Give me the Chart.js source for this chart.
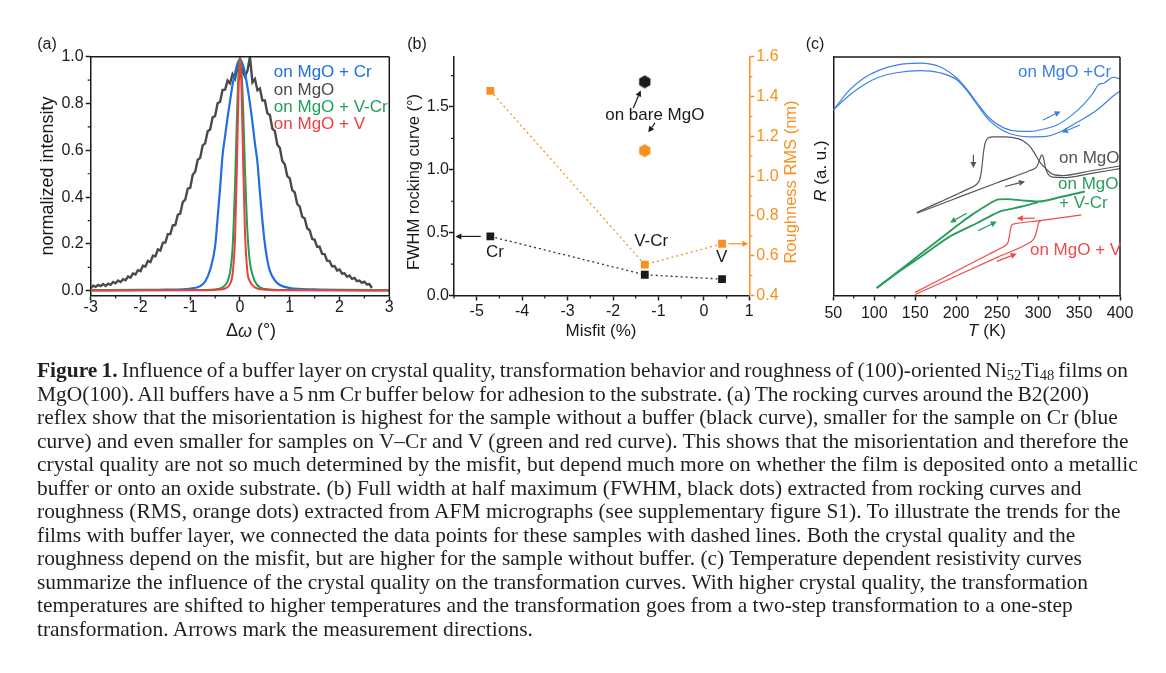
<!DOCTYPE html>
<html>
<head>
<meta charset="utf-8">
<title>Figure 1</title>
<script src="https://cdn.jsdelivr.net/npm/chart.js@4.4.1/dist/chart.umd.min.js"></script>
<style>
  html, body { margin: 0; padding: 0; background: #fff; }
  body { position: relative; width: 1166px; height: 673px; overflow: hidden; }
  canvas { position: absolute; left: 0; top: 0; }
  #caption { position: absolute; left: 37px; top: 359px; font-family: "Liberation Serif", "DejaVu Serif", serif;
             font-size: 18.6px; line-height: 23.55px; color: #231f20; }
  #caption .ln { white-space: nowrap; width: max-content; }
  #caption sub { font-size: 0.68em; vertical-align: -0.22em; line-height: 0; }
</style>
</head>
<body>
<canvas id="chart-a" width="1166" height="360"></canvas>
<canvas id="chart-b" width="1166" height="360"></canvas>
<canvas id="chart-c" width="1166" height="360"></canvas>

<div id="caption">
  <div class="ln"><b>Figure 1.</b> Influence of a buffer layer on crystal quality, transformation behavior and roughness of (100)-oriented Ni<sub>52</sub>Ti<sub>48</sub> films on</div>
  <div class="ln">MgO(100). All buffers have a 5&#8201;nm Cr buffer below for adhesion to the substrate. (a) The rocking curves around the B2(200)</div>
  <div class="ln">reflex show that the misorientation is highest for the sample without a buffer (black curve), smaller for the sample on Cr (blue</div>
  <div class="ln">curve) and even smaller for samples on V–Cr and V (green and red curve). This shows that the misorientation and therefore the</div>
  <div class="ln">crystal quality are not so much determined by the misfit, but depend much more on whether the film is deposited onto a metallic</div>
  <div class="ln">buffer or onto an oxide substrate. (b) Full width at half maximum (FWHM, black dots) extracted from rocking curves and</div>
  <div class="ln">roughness (RMS, orange dots) extracted from AFM micrographs (see supplementary figure S1). To illustrate the trends for the</div>
  <div class="ln">films with buffer layer, we connected the data points for these samples with dashed lines. Both the crystal quality and the</div>
  <div class="ln">roughness depend on the misfit, but are higher for the sample without buffer. (c) Temperature dependent resistivity curves</div>
  <div class="ln">summarize the influence of the crystal quality on the transformation curves. With higher crystal quality, the transformation</div>
  <div class="ln">temperatures are shifted to higher temperatures and the transformation goes from a two-step transformation to a one-step</div>
  <div class="ln">transformation. Arrows mark the measurement directions.</div>
</div>

<script>
// Figure 1 – rocking curves (a), FWHM/roughness vs misfit (b), R(T) curves (c)

// ---------- (a) rocking curves: Δω (°) vs normalized intensity ----------
const omegaMgO = [-3, -2.95, -2.9, -2.85, -2.8, -2.75, -2.7, -2.65, -2.6, -2.55, -2.5, -2.45, -2.4, -2.35, -2.3, -2.25,
  -2.2, -2.15, -2.1, -2.05, -2, -1.95, -1.9, -1.85, -1.8, -1.75, -1.7, -1.65, -1.6, -1.55, -1.5, -1.45, -1.4, -1.35,
  -1.3, -1.25, -1.2, -1.15, -1.1, -1.05, -1, -0.95, -0.9, -0.85, -0.8, -0.75, -0.7, -0.65, -0.6, -0.55, -0.5, -0.45,
  -0.4, -0.35, -0.3, -0.25, -0.2, -0.15, -0.1, -0.05, 0, 0.05, 0.1, 0.15, 0.2, 0.25, 0.3, 0.35, 0.4, 0.45, 0.5, 0.55,
  0.6, 0.65, 0.7, 0.75, 0.8, 0.85, 0.9, 0.95, 1, 1.05, 1.1, 1.15, 1.2, 1.25, 1.3, 1.35, 1.4, 1.45, 1.5, 1.55, 1.6,
  1.65, 1.7, 1.75, 1.8, 1.85, 1.9, 1.95, 2, 2.05, 2.1, 2.15, 2.2, 2.25, 2.3, 2.35, 2.4, 2.45, 2.5, 2.55, 2.6, 2.65];
const intMgO = [0.012, 0.022, 0.017, 0.025, 0.020, 0.029, 0.021, 0.031, 0.026, 0.038, 0.032, 0.044, 0.038, 0.050,
  0.045, 0.061, 0.056, 0.074, 0.070, 0.088, 0.084, 0.107, 0.104, 0.128, 0.123, 0.150, 0.147, 0.177, 0.172, 0.206,
  0.206, 0.242, 0.242, 0.280, 0.281, 0.325, 0.330, 0.379, 0.389, 0.436, 0.440, 0.496, 0.509, 0.560, 0.568, 0.621,
  0.630, 0.682, 0.689, 0.741, 0.747, 0.801, 0.808, 0.858, 0.859, 0.898, 0.886, 0.925, 0.906, 0.960, 0.917, 0.944,
  0.915, 0.940, 1.000, 0.891, 0.905, 0.857, 0.864, 0.813, 0.813, 0.758, 0.751, 0.693, 0.682, 0.624, 0.611, 0.555,
  0.541, 0.490, 0.480, 0.430, 0.420, 0.371, 0.360, 0.316, 0.309, 0.267, 0.259, 0.222, 0.218, 0.188, 0.188, 0.158,
  0.157, 0.129, 0.127, 0.104, 0.106, 0.087, 0.091, 0.073, 0.075, 0.060, 0.065, 0.051, 0.055, 0.041, 0.044, 0.034,
  0.039, 0.027, 0.029, 0.012];
const omegaCr = [-3, -2, -1.5, -1, -0.8, -0.7, -0.6, -0.5, -0.45, -0.4, -0.35, -0.3, -0.25, -0.2, -0.15, -0.1, -0.05,
  0, 0.05, 0.1, 0.15, 0.2, 0.25, 0.3, 0.35, 0.4, 0.45, 0.5, 0.55, 0.6, 0.7, 0.8, 1, 1.5, 2, 3];
const intCr = [0.003, 0.004, 0.005, 0.01, 0.02, 0.04, 0.09, 0.19, 0.31, 0.44, 0.58, 0.66, 0.74, 0.81, 0.88, 0.93, 0.97,
  0.99, 0.97, 0.93, 0.87, 0.8, 0.72, 0.63, 0.55, 0.42, 0.3, 0.2, 0.13, 0.085, 0.045, 0.025, 0.012, 0.006, 0.004, 0.003];
const omegaVCr = [-3, -1, -0.5, -0.35, -0.25, -0.2, -0.15, -0.1, -0.06, -0.03, 0, 0.03, 0.06, 0.1, 0.15, 0.2, 0.25,
  0.3, 0.4, 0.6, 1, 3];
const intVCr = [0.002, 0.003, 0.006, 0.015, 0.04, 0.08, 0.18, 0.45, 0.75, 0.93, 1.0, 0.94, 0.8, 0.52, 0.25, 0.12, 0.07,
  0.04, 0.015, 0.006, 0.003, 0.002];
const omegaV = [-3, -1, -0.5, -0.3, -0.2, -0.15, -0.1, -0.06, -0.03, 0, 0.03, 0.06, 0.1, 0.15, 0.2, 0.3, 0.5, 1, 3];
const intV = [0.001, 0.002, 0.004, 0.01, 0.03, 0.07, 0.22, 0.55, 0.85, 1.0, 0.87, 0.58, 0.25, 0.08, 0.04, 0.015, 0.005,
  0.002, 0.001];
const ticksOmega = [-3, -2, -1, 0, 1, 2, 3];
const ticksInt = [0, 0.2, 0.4, 0.6, 0.8, 1.0];

// ---------- (b) FWHM (°) and roughness RMS (nm) vs misfit (%) ----------
const bufferNames = ['Cr', 'V-Cr', 'V'];
const misfitBuf = [-4.7, -1.3, 0.4];
const fwhmBuf = [0.47, 0.165, 0.13];
const rmsBuf = [1.428, 0.555, 0.66];
const misfitBare = [-1.3];
const fwhmBare = [1.70];
const rmsBare = [1.128];
const ticksMisfit = [-5, -4, -3, -2, -1, 0, 1];
const ticksFwhm = [0, 0.5, 1.0, 1.5];
const ticksRms = [0.4, 0.6, 0.8, 1.0, 1.2, 1.4, 1.6];

// ---------- (c) R (a.u.) vs T (K), heating / cooling branches ----------
const crHeatT = [50, 70, 87, 107, 127, 156, 180, 201, 213, 225, 241, 258, 275, 290, 306, 323, 339, 355, 367, 373.5, 380, 392, 400];
const crHeatR = [77.8, 86.2, 91.1, 94.6, 96.6, 97.4, 95.9, 91.1, 86.5, 81, 74.2, 70.3, 68.9, 68.8, 69.7, 71.5, 75, 79.9, 84.8, 88.3, 89, 91.5, 90.8];
const crCoolT = [50, 70, 87, 107, 127, 156, 180, 201, 213, 225, 241, 258, 274, 290, 310, 323, 347, 372, 396, 400];
const crCoolR = [77.8, 84.1, 88.3, 91.7, 93.4, 94.3, 93.4, 90.4, 86, 80.3, 73.2, 69, 67.1, 66.5, 66.7, 68, 72.5, 77.8, 84.8, 85.6];
const mgoCoolT = [152, 175, 200, 215, 224, 228, 230, 231.5, 233, 235, 237, 240, 245, 260, 275, 282, 290, 296, 302, 310, 318, 330, 365, 400];
const mgoCoolR = [34.8, 38.4, 42.3, 44.7, 46.3, 48, 50.5, 54, 59, 63.5, 65.3, 66.2, 66.5, 66.5, 65.8, 64.8, 62.5, 59.5, 56, 53, 50.8, 50.3, 52.3, 54.3];
const mgoHeatT = [152, 200, 250, 290, 298, 301, 303.5, 305, 307, 309, 312, 318, 330, 365, 400];
const mgoHeatR = [34.5, 40.8, 47.3, 52.4, 53.8, 56, 58.5, 59, 57, 53.5, 51, 49.6, 49.4, 51.2, 53.2];
const vcrCoolT = [103, 130, 160, 190, 205, 220, 235, 245, 252, 262, 280, 300, 330, 357];
const vcrCoolR = [3.1, 10.3, 18.3, 26.3, 30.3, 34, 37.3, 39.4, 40.3, 40.4, 39.9, 39.4, 41.5, 43.6];
const vcrHeatT = [103, 130, 160, 192, 210, 225, 240, 253, 266, 280, 300];
const vcrHeatR = [3.1, 10, 17, 24.7, 27.8, 30.3, 33, 35.2, 36.2, 37.3, 39.2];
const vCoolT = [150, 200, 240, 257, 261, 263.5, 265, 266.5, 268, 272, 302, 353];
const vCoolR = [1.3, 10.2, 17.3, 20.3, 21.2, 22.5, 25, 28, 29.6, 30.1, 31.4, 33.8];
const vHeatT = [150, 200, 250, 290, 293, 296, 298.5, 300.5, 303];
const vHeatR = [0.4, 8.2, 16, 22.2, 23, 24.5, 27.5, 30.3, 31.4];
const ticksT = [50, 100, 150, 200, 250, 300, 350, 400];

// ---------- look ----------
const FONT = "'Liberation Sans', Arial, Helvetica, sans-serif";
const W = 1166, H = 360;
const INK = '#1a1a1a';
const BLUE = '#1f6fe0', GRAY = '#4a4a4a', GREEN = '#1f9e55', RED = '#ef3e3e', ORANGE = '#f7901e';
const BLUE_C = '#3b80e4', GRAY_C = '#555555', GREEN_C = '#2a9d5c', RED_C = '#ef4a4a';
const UP = -Math.PI / 2;

Chart.defaults.font.family = FONT;

const pts = (xs, ys) => xs.map((x, i) => ({x, y: ys[i]}));

function linAxis(o) {
  const col = o.color || INK;
  return {
    type: 'linear', position: o.position, min: o.min, max: o.max,
    border: {display: true, color: col, width: 1.5},
    grid: {display: true, drawOnChartArea: false, drawTicks: !o.noTicks, tickLength: 5, tickWidth: 1.5, tickColor: col},
    ticks: {display: !o.noTicks, color: col, font: {family: FONT, size: 16, lineHeight: 1}, padding: o.pad ?? 2,
            maxRotation: 0, minRotation: 0, autoSkip: false,
            callback: v => (o.fmt ? o.fmt(v) : String(v))},
    afterBuildTicks: s => { if (o.ticks) s.ticks = o.ticks.map(v => ({value: v})); },
    afterFit: s => { if (s.isHorizontal()) s.height = o.size; else s.width = o.size; }
  };
}

function drawRich(ctx, segs, x, y, o) {
  ctx.save();
  ctx.translate(x, y);
  if (o.rot) ctx.rotate(o.rot);
  ctx.fillStyle = o.color || INK;
  ctx.textBaseline = 'middle';
  ctx.textAlign = 'left';
  const fonts = segs.map(s => (s[1] ? 'italic ' : '') + (o.size || 17) + 'px ' + FONT);
  let total = 0;
  const ws = segs.map((s, i) => { ctx.font = fonts[i]; const w = ctx.measureText(s[0]).width; total += w; return w; });
  let cx = o.align === 'left' ? 0 : -total / 2;
  segs.forEach((s, i) => { ctx.font = fonts[i]; ctx.fillText(s[0], cx, 0); cx += ws[i]; });
  ctx.restore();
}

function arrow(ctx, x1, y1, x2, y2, color) {
  const ang = Math.atan2(y2 - y1, x2 - x1), h = 6, w = 3;
  const bx = x2 - h * Math.cos(ang), by = y2 - h * Math.sin(ang);
  ctx.strokeStyle = color; ctx.fillStyle = color; ctx.lineWidth = 1.2;
  ctx.beginPath(); ctx.moveTo(x1, y1); ctx.lineTo(bx, by); ctx.stroke();
  ctx.beginPath();
  ctx.moveTo(x2, y2);
  ctx.lineTo(bx + w * Math.sin(ang), by - w * Math.cos(ang));
  ctx.lineTo(bx - w * Math.sin(ang), by + w * Math.cos(ang));
  ctx.closePath(); ctx.fill();
}

// frame, minor ticks, arrows and labels drawn on top of each panel
function makeDecor(cfg) {
  return {
    id: 'decor',
    afterDraw(chart) {
      const ctx = chart.ctx, a = chart.chartArea;
      ctx.save();
      ctx.strokeStyle = INK; ctx.lineWidth = 1.5;
      ctx.beginPath();
      if (cfg.frameTop) { ctx.moveTo(a.left, a.top); ctx.lineTo(a.right, a.top); }
      if (cfg.frameRight) { ctx.moveTo(a.right, a.top); ctx.lineTo(a.right, a.bottom); }
      ctx.stroke();
      (cfg.minor || []).forEach(m => {
        const s = chart.scales[m.axis];
        ctx.strokeStyle = m.color || INK; ctx.lineWidth = 1.2;
        ctx.beginPath();
        for (let k = Math.ceil(s.min / m.step - 1e-6); k * m.step <= s.max + 1e-6; k++) {
          const v = k * m.step;
          if (s.ticks.some(t => Math.abs(t.value - v) < 1e-6)) continue;
          const p = s.getPixelForValue(v);
          if (s.isHorizontal()) { ctx.moveTo(p, a.bottom); ctx.lineTo(p, a.bottom + 3); }
          else if (s.position === 'left') { ctx.moveTo(a.left, p); ctx.lineTo(a.left - 3, p); }
          else { ctx.moveTo(a.right, p); ctx.lineTo(a.right + 3, p); }
        }
        ctx.stroke();
      });
      (cfg.arrows || []).forEach(r => {
        const sx = chart.scales.x, sy = chart.scales[r.axis || 'y'];
        arrow(ctx, sx.getPixelForValue(r.x1), sy.getPixelForValue(r.y1),
              sx.getPixelForValue(r.x2), sy.getPixelForValue(r.y2), r.color || INK);
      });
      (cfg.texts || []).forEach(t => {
        const sx = chart.scales.x, sy = chart.scales[t.axis || 'y'];
        drawRich(ctx, t.segs, sx.getPixelForValue(t.x), sy.getPixelForValue(t.y), t);
      });
      (cfg.titles || []).forEach(t => drawRich(ctx, t.segs, t.px, t.py, t));
      ctx.restore();
    }
  };
}

function hexMark(color, r) {
  const c = document.createElement('canvas');
  const s = Math.ceil(r * 2 + 2);
  c.width = c.height = s;
  const g = c.getContext('2d');
  g.fillStyle = color;
  g.beginPath();
  for (let k = 0; k < 6; k++) {
    const a = -Math.PI / 2 + k * Math.PI / 3;
    g.lineTo(s / 2 + r * Math.cos(a), s / 2 + r * Math.sin(a));
  }
  g.closePath(); g.fill();
  return c;
}

const base = {
  responsive: false, animation: false, devicePixelRatio: 1,
  plugins: {legend: {display: false}, tooltip: {enabled: false}},
};

function curve(data, color, width) {
  return {data, borderColor: color, backgroundColor: color, borderWidth: width, pointRadius: 0,
          fill: false, tension: 0.4, cubicInterpolationMode: 'monotone'};
}

// ---------- panel (a) ----------
new Chart(document.getElementById('chart-a'), {
  type: 'line',
  data: {datasets: [
    curve(pts(omegaV, intV), RED, 2),
    curve(pts(omegaVCr, intVCr), GREEN, 2),
    curve(pts(omegaCr, intCr), BLUE, 2.2),
    Object.assign(curve(pts(omegaMgO, intMgO), GRAY, 2.4), {tension: 0, cubicInterpolationMode: 'default'})
  ]},
  options: Object.assign({}, base, {
    layout: {autoPadding: false, padding: {top: 56.7, right: W - 389.3, left: 0, bottom: 0}},
    scales: {
      x: linAxis({position: 'bottom', min: -3, max: 3, ticks: ticksOmega, size: H - 295.5, pad: -1}),
      y: linAxis({position: 'left', min: -0.02, max: 1.0, ticks: ticksInt, size: 90.7, fmt: v => v.toFixed(1)})
    }
  }),
  plugins: [makeDecor({
    frameTop: true, frameRight: true,
    minor: [{axis: 'x', step: 0.5}, {axis: 'y', step: 0.1}],
    texts: [
      {x: 0.68, y: 0.932, segs: [['on MgO + Cr']], color: BLUE, align: 'left', size: 17},
      {x: 0.68, y: 0.858, segs: [['on MgO']], color: GRAY, align: 'left', size: 17},
      {x: 0.68, y: 0.784, segs: [['on MgO + V-Cr']], color: GREEN, align: 'left', size: 17},
      {x: 0.68, y: 0.711, segs: [['on MgO + V']], color: RED, align: 'left', size: 17}
    ],
    titles: [
      {px: 47, py: 45, segs: [['(a)']], size: 16},
      {px: 48, py: 176, rot: UP, segs: [['normalized intensity']], size: 18},
      {px: 251, py: 331.5, segs: [['Δ'], ['ω', 1], [' (°)']], size: 18}
    ]
  })]
});

// ---------- panel (b) ----------
new Chart(document.getElementById('chart-b'), {
  type: 'line',
  data: {datasets: [
    {data: pts(misfitBare, fwhmBare), yAxisID: 'y', showLine: false, pointStyle: hexMark(INK, 6.5), pointRadius: 7},
    {data: pts(misfitBare, rmsBare), yAxisID: 'y2', showLine: false, pointStyle: hexMark(ORANGE, 6.5), pointRadius: 7},
    {data: pts(misfitBuf, fwhmBuf), yAxisID: 'y', borderColor: '#333', borderWidth: 1.3, borderDash: [2, 3],
     pointStyle: 'rect', pointRadius: 5.5, pointBackgroundColor: INK, pointBorderColor: INK, pointBorderWidth: 0},
    {data: pts(misfitBuf, rmsBuf), yAxisID: 'y2', borderColor: ORANGE, borderWidth: 1.3, borderDash: [2, 3],
     pointStyle: 'rect', pointRadius: 5.5, pointBackgroundColor: ORANGE, pointBorderColor: ORANGE, pointBorderWidth: 0}
  ]},
  options: Object.assign({}, base, {
    layout: {autoPadding: false, padding: {top: 56.7, right: 0, left: 0, bottom: 0}},
    scales: {
      x: linAxis({position: 'bottom', min: -5.5, max: 1, ticks: ticksMisfit, size: H - 295.5, pad: 3}),
      y: linAxis({position: 'left', min: 0, max: 1.9, ticks: ticksFwhm, size: 454, pad: 0, fmt: v => v.toFixed(1)}),
      y2: linAxis({position: 'right', min: 0.4, max: 1.6, ticks: ticksRms, size: W - 749.3, pad: 2,
                   color: ORANGE, fmt: v => v.toFixed(1)})
    }
  }),
  plugins: [makeDecor({
    minor: [{axis: 'x', step: 0.5}, {axis: 'y', step: 0.25}, {axis: 'y2', step: 0.1, color: ORANGE}],
    arrows: [
      {x1: -4.91, y1: 0.47, x2: -5.47, y2: 0.47},
      {axis: 'y2', x1: 0.54, y1: 0.66, x2: 0.98, y2: 0.66, color: ORANGE},
      {x1: -1.553, y1: 1.492, x2: -1.39, y2: 1.632},
      {x1: -1.076, y1: 1.373, x2: -1.224, y2: 1.298}
    ],
    texts: [
      {x: -1.08, y: 1.43, segs: [['on bare MgO']], size: 17},
      {x: misfitBuf[0] + 0.1, y: 0.34, segs: [[bufferNames[0]]], size: 17},
      {x: misfitBuf[1] + 0.14, y: 0.435, segs: [[bufferNames[1]]], size: 17},
      {x: misfitBuf[2] - 0.01, y: 0.30, segs: [[bufferNames[2]]], size: 17}
    ],
    titles: [
      {px: 417, py: 45, segs: [['(b)']], size: 16},
      {px: 414, py: 182, rot: UP, segs: [['FWHM rocking curve (°)']], size: 16.5},
      {px: 791, py: 182, rot: UP, segs: [['Roughness RMS (nm)']], size: 16.5, color: ORANGE},
      {px: 601, py: 331, segs: [['Misfit (%)']], size: 17}
    ]
  })]
});

// ---------- panel (c) ----------
new Chart(document.getElementById('chart-c'), {
  type: 'line',
  data: {datasets: [
    curve(pts(vCoolT, vCoolR), RED_C, 1.2),
    curve(pts(vHeatT, vHeatR), RED_C, 1.2),
    curve(pts(vcrCoolT, vcrCoolR), GREEN_C, 1.9),
    curve(pts(vcrHeatT, vcrHeatR), GREEN_C, 1.9),
    curve(pts(mgoCoolT, mgoCoolR), GRAY_C, 1.2),
    curve(pts(mgoHeatT, mgoHeatR), GRAY_C, 1.2),
    curve(pts(crCoolT, crCoolR), BLUE_C, 1.2),
    curve(pts(crHeatT, crHeatR), BLUE_C, 1.2)
  ]},
  options: Object.assign({}, base, {
    layout: {autoPadding: false, padding: {top: 57, right: W - 1120, left: 0, bottom: 0}},
    scales: {
      x: linAxis({position: 'bottom', min: 50, max: 400, ticks: ticksT, size: H - 295.5, pad: 5}),
      y: linAxis({position: 'left', min: 0, max: 100, size: 833.3, noTicks: true})
    }
  }),
  plugins: [makeDecor({
    frameTop: true, frameRight: true,
    minor: [{axis: 'x', step: 25}],
    arrows: [
      {x1: 306, y1: 73.6, x2: 327.5, y2: 77.2, color: BLUE_C},
      {x1: 351, y1: 71.5, x2: 329, y2: 68.3, color: BLUE_C},
      {x1: 221, y1: 59, x2: 221, y2: 53.5, color: GRAY_C},
      {x1: 259.6, y1: 45.7, x2: 284, y2: 47.8, color: GRAY_C},
      {x1: 213, y1: 34.5, x2: 192.5, y2: 30.6, color: GREEN_C},
      {x1: 227, y1: 27.2, x2: 249.5, y2: 31, color: GREEN_C},
      {x1: 296, y1: 32.4, x2: 274, y2: 32.4, color: RED_C},
      {x1: 249.5, y1: 14.3, x2: 273.9, y2: 17.5, color: RED_C}
    ],
    texts: [
      {x: 275.5, y: 93.4, segs: [['on MgO +Cr']], color: BLUE_C, align: 'left', size: 17},
      {x: 325.6, y: 57.7, segs: [['on MgO']], color: GRAY_C, align: 'left', size: 17},
      {x: 324.4, y: 46.8, segs: [['on MgO']], color: GREEN_C, align: 'left', size: 17},
      {x: 325.6, y: 38.8, segs: [['+ V-Cr']], color: GREEN_C, align: 'left', size: 17},
      {x: 290.1, y: 19.1, segs: [['on MgO + V']], color: RED_C, align: 'left', size: 17}
    ],
    titles: [
      {px: 815, py: 45, segs: [['(c)']], size: 16},
      {px: 821, py: 171, rot: UP, segs: [['R', 1], [' (a. u.)']], size: 17},
      {px: 987, py: 331.5, segs: [['T', 1], [' (K)']], size: 17}
    ]
  })]
});

// caption: scale the type from the longest line, then nudge word spacing of the first two lines
const cap = document.getElementById('caption');
const lines = Array.from(cap.children);
const longest = lines[4].getBoundingClientRect().width;
cap.style.fontSize = (parseFloat(getComputedStyle(cap).fontSize) * 1101 / longest) + 'px';
const lineEnds = {0: 1128, 1: 1088};
Object.keys(lineEnds).forEach(i => {
  const el = lines[i];
  const words = el.textContent.trim().split(/\s+/).length - 1;
  const w = el.getBoundingClientRect().width;
  el.style.wordSpacing = ((lineEnds[i] - 37 - w) / words) + 'px';
});
</script>
</body>
</html>
